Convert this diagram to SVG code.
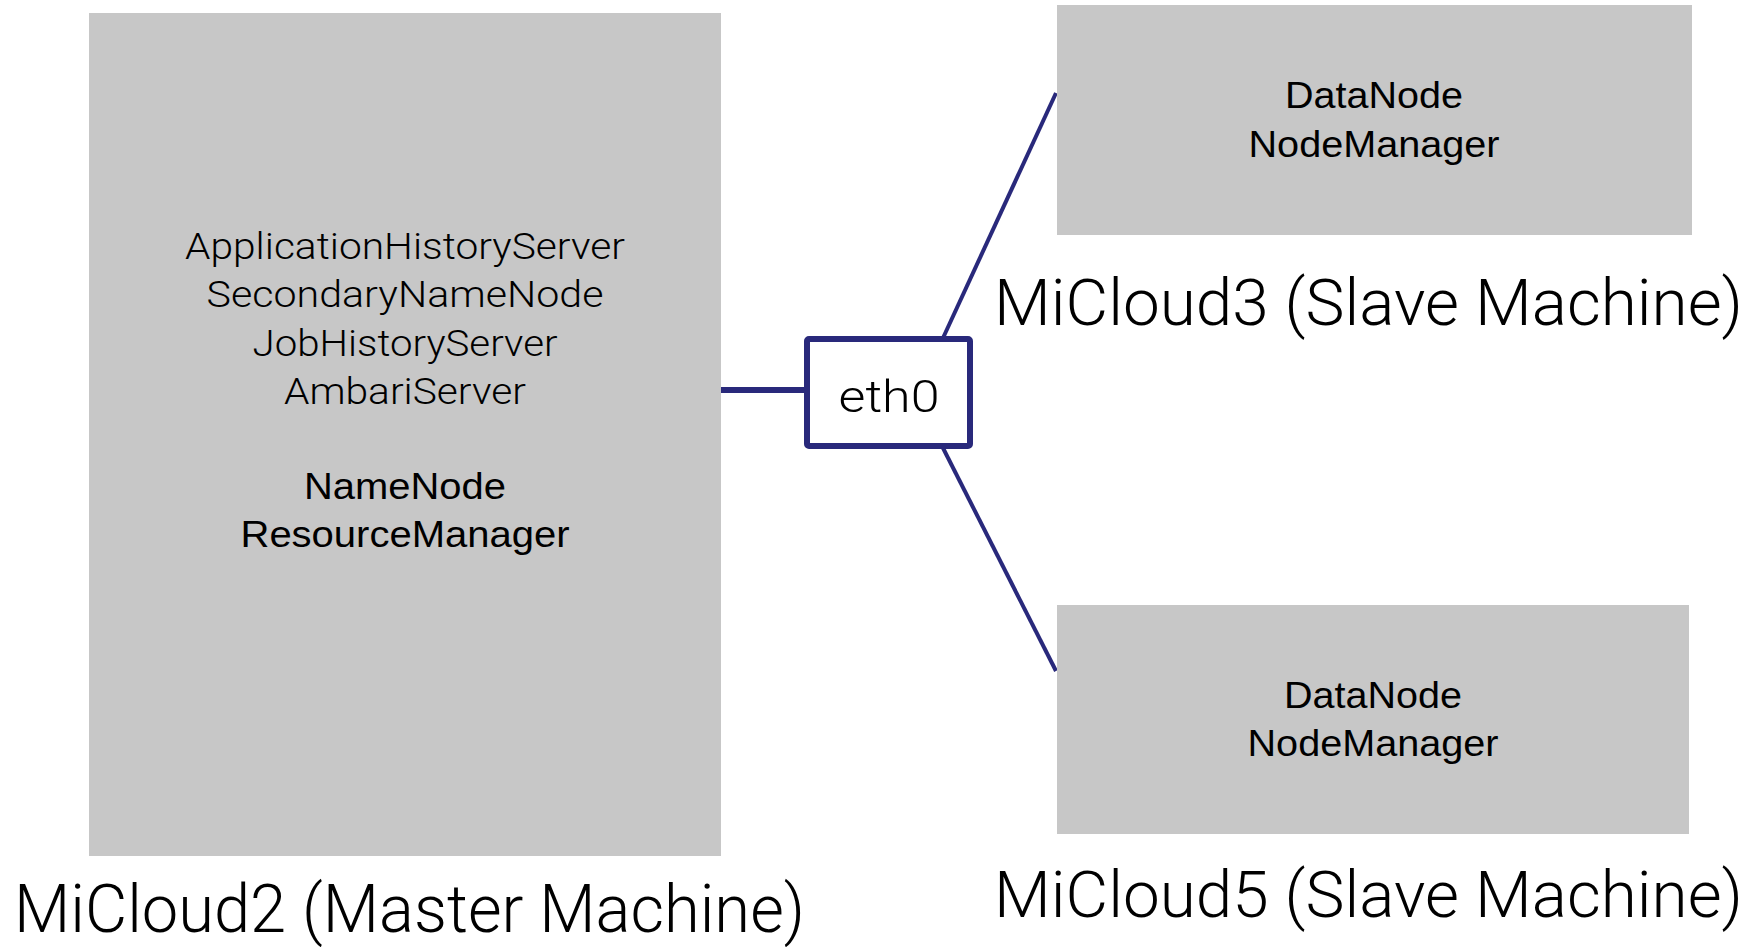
<svg xmlns="http://www.w3.org/2000/svg" width="1761" height="947" viewBox="0 0 1761 947">
<style>
.box{fill:#c7c7c7;stroke:none}
.light{font-family:Roboto,"Liberation Sans",Arial,sans-serif;font-weight:300;fill:#000}
.reg{font-family:"Liberation Sans",Arial,sans-serif;font-weight:400;fill:#000}
.conn{stroke:#29297b;fill:none;stroke-linecap:butt}
</style>
<rect width="1761" height="947" fill="#ffffff"/>
<g id="connectors">
<line class="conn" x1="721" y1="390" x2="807" y2="390" stroke-width="6"/>
<line class="conn" x1="943" y1="338" x2="1056" y2="93" stroke-width="4"/>
<line class="conn" x1="943" y1="448" x2="1056" y2="671" stroke-width="4"/>
</g>
<g id="master">
<rect class="box" x="89" y="13" width="632" height="843"/>
<g text-anchor="middle" font-size="37">
<text class="light" x="405" y="259" textLength="440" lengthAdjust="spacingAndGlyphs">ApplicationHistoryServer</text>
<text class="light" x="405" y="307" textLength="397" lengthAdjust="spacingAndGlyphs">SecondaryNameNode</text>
<text class="light" x="405" y="356" textLength="305" lengthAdjust="spacingAndGlyphs">JobHistoryServer</text>
<text class="light" x="405" y="404" textLength="242" lengthAdjust="spacingAndGlyphs">AmbariServer</text>
<text class="reg" x="405" y="499" textLength="202" lengthAdjust="spacingAndGlyphs">NameNode</text>
<text class="reg" x="405" y="547" textLength="329" lengthAdjust="spacingAndGlyphs">ResourceManager</text>
</g>
<text class="light" x="14" y="932" font-size="66" textLength="791" lengthAdjust="spacingAndGlyphs">MiCloud2 (Master Machine)</text>
</g>
<g id="eth0">
<rect x="807" y="339" width="163" height="107" rx="2" fill="#ffffff" stroke="#29297b" stroke-width="6"/>
<text class="light" x="889" y="412" font-size="45" text-anchor="middle" textLength="101" lengthAdjust="spacingAndGlyphs">eth0</text>
</g>
<g id="slave3">
<rect class="box" x="1057" y="5" width="635" height="230"/>
<g text-anchor="middle" font-size="36">
<text class="reg" x="1374" y="108" textLength="178" lengthAdjust="spacingAndGlyphs">DataNode</text>
<text class="reg" x="1374" y="157" textLength="251" lengthAdjust="spacingAndGlyphs">NodeManager</text>
</g>
<text class="light" x="994" y="325" font-size="65" textLength="749" lengthAdjust="spacingAndGlyphs">MiCloud3 (Slave Machine)</text>
</g>
<g id="slave5">
<rect class="box" x="1057" y="605" width="632" height="229"/>
<g text-anchor="middle" font-size="36">
<text class="reg" x="1373" y="708" textLength="178" lengthAdjust="spacingAndGlyphs">DataNode</text>
<text class="reg" x="1373" y="756" textLength="251" lengthAdjust="spacingAndGlyphs">NodeManager</text>
</g>
<text class="light" x="994" y="917" font-size="64" textLength="749" lengthAdjust="spacingAndGlyphs">MiCloud5 (Slave Machine)</text>
</g>
</svg>
